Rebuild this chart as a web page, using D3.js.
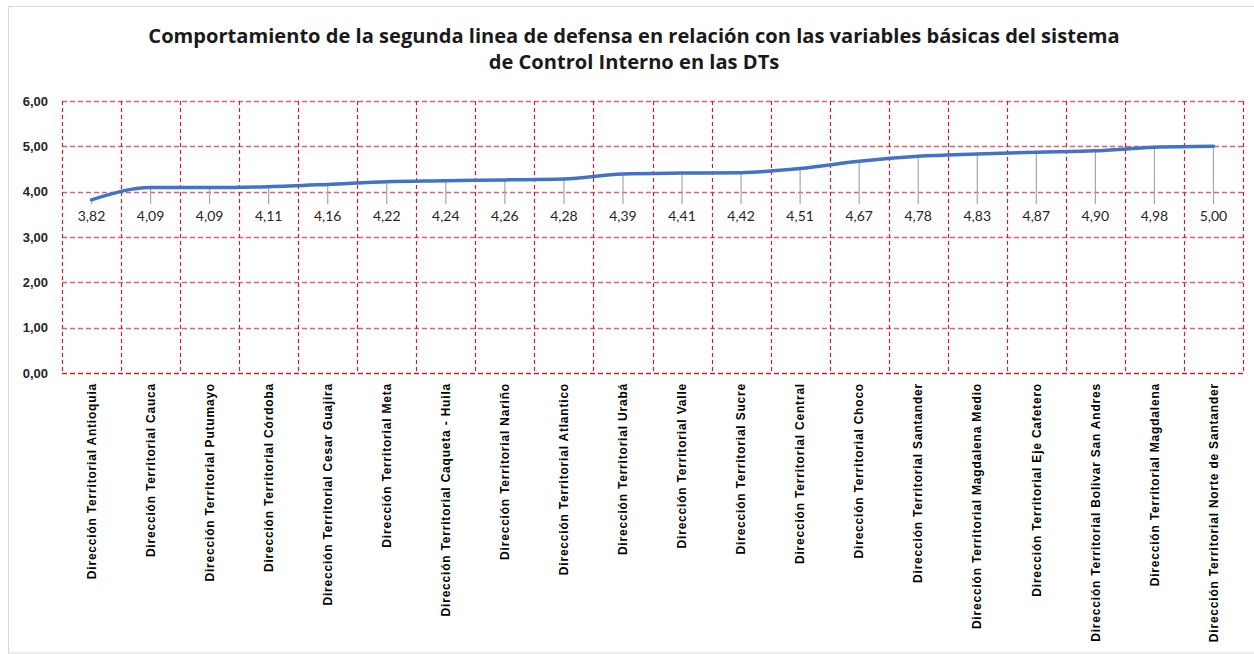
<!DOCTYPE html>
<html>
<head>
<meta charset="utf-8">
<script src="https://cdn.jsdelivr.net/npm/d3@7"></script>
<style>
  html, body { margin: 0; padding: 0; background: #fff; }
  svg { display: block; }
</style>
</head>
<body>
<svg id="chart" width="1254" height="654"></svg>
<script>
const titleLines = [
  "Comportamiento de la segunda linea de defensa en relación con las variables básicas del sistema",
  "de Control Interno en las DTs"
];
const categories = [
  "Dirección Territorial Antioquia",
  "Dirección Territorial Cauca",
  "Dirección Territorial Putumayo",
  "Dirección Territorial Córdoba",
  "Dirección Territorial Cesar Guajira",
  "Dirección Territorial Meta",
  "Dirección Territorial Caqueta - Huila",
  "Dirección Territorial Nariño",
  "Dirección Territorial Atlantico",
  "Dirección Territorial Urabá",
  "Dirección Territorial Valle",
  "Dirección Territorial Sucre",
  "Dirección Territorial Central",
  "Dirección Territorial Choco",
  "Dirección Territorial Santander",
  "Dirección Territorial Magdalena Medio",
  "Dirección Territorial Eje  Cafetero",
  "Dirección Territorial Bolivar San Andres",
  "Dirección Territorial Magdalena",
  "Dirección Territorial Norte de Santander"
];
const values = [3.82, 4.09, 4.09, 4.11, 4.16, 4.22, 4.24, 4.26, 4.28, 4.39, 4.41, 4.42, 4.51, 4.67, 4.78, 4.83, 4.87, 4.90, 4.98, 5.00];
const yTicks = [0, 1, 2, 3, 4, 5, 6];

const svg = d3.select("#chart");
const fmt = v => d3.format(".2f")(v).replace(".", ",");

// outer chart border
svg.append("rect").attr("x", 8.5).attr("y", 6.5).attr("width", 1260).attr("height", 646.5)
  .attr("fill", "#fff").attr("stroke", "#d9d9d9").attr("stroke-width", 1);

const plot = { left: 62, right: 1243, top: 101, bottom: 373 };
const x = d3.scaleBand().domain(categories).range([plot.left, plot.right]).padding(0);
const y = d3.scaleLinear().domain([0, 6]).range([plot.bottom, plot.top]);

// title
const title = svg.append("g");
const titleFont = "'Open Sans', Lato, sans-serif";
titleLines.forEach((t, i) => {
  title.append("text")
    .attr("x", 634).attr("y", 43 + i * 26)
    .attr("text-anchor", "middle")
    .attr("font-family", titleFont)
    .attr("font-weight", "bold")
    .attr("font-size", 18)
    .attr("fill", "#1a1a1a")
    .text(t);
});
{
  const n = title.select("text").node();
  const w = n.getComputedTextLength();
  const fs = 18 * 972 / w;
  title.selectAll("text").attr("font-size", fs);
}

// horizontal gridlines
svg.append("g").selectAll("line").data(yTicks).join("line")
  .attr("x1", plot.left).attr("x2", plot.right)
  .attr("y1", d => Math.round(y(d)) + 0.5).attr("y2", d => Math.round(y(d)) + 0.5)
  .attr("stroke", d => d === 0 ? "#c0202a" : "#e0606c")
  .attr("stroke-width", 1.3)
  .attr("stroke-dasharray", "5,3");

// vertical gridlines at band boundaries
const bounds = categories.map(c => x(c)).concat([plot.right]);
svg.append("g").selectAll("line").data(bounds).join("line")
  .attr("x1", d => Math.round(d) + 0.5).attr("x2", d => Math.round(d) + 0.5)
  .attr("y1", plot.top).attr("y2", plot.bottom)
  .attr("stroke", "#c8202c")
  .attr("stroke-width", 1.2)
  .attr("stroke-dasharray", "4,3");

// y axis labels
const yAxis = d3.axisLeft(y).tickValues(yTicks).tickFormat(fmt).tickSize(0).tickPadding(14);
const gy = svg.append("g").attr("transform", `translate(${plot.left},0)`).call(yAxis);
gy.select(".domain").remove();
gy.selectAll("text")
  .attr("font-family", "'Liberation Sans', Arial, sans-serif")
  .attr("font-weight", "bold")
  .attr("font-size", 13)
  .attr("fill", "#262626");

// x axis labels (rotated)
const xAxis = d3.axisBottom(x).tickSize(0).tickPadding(0);
const gx = svg.append("g").attr("transform", `translate(0,${plot.bottom})`).call(xAxis);
gx.select(".domain").remove();
gx.selectAll("text")
  .attr("transform", "rotate(-90)")
  .attr("text-anchor", "end")
  .attr("x", -10)
  .attr("y", 0)
  .attr("dy", "0.35em")
  .attr("font-family", "'Liberation Sans', Arial, sans-serif")
  .attr("font-weight", "bold")
  .attr("font-size", 12)
  .attr("letter-spacing", 0.8)
  .attr("fill", "#000");

const cx = d => x(d) + x.bandwidth() / 2;
const labelY = 216;

// leader lines
svg.append("g").selectAll("line").data(values).join("line")
  .attr("x1", (d, i) => cx(categories[i])).attr("x2", (d, i) => cx(categories[i]))
  .attr("y1", d => y(d)).attr("y2", labelY - 12)
  .attr("stroke", "#a6a6a6").attr("stroke-width", 1.2);

// line
const line = d3.line()
  .x((d, i) => cx(categories[i]))
  .y(d => y(d))
  .curve(d3.curveMonotoneX);
svg.append("path").datum(values)
  .attr("d", line)
  .attr("fill", "none")
  .attr("stroke", "#4472c4")
  .attr("stroke-width", 3.5)
  .attr("stroke-linecap", "round")
  .attr("stroke-linejoin", "round");

// data labels
svg.append("g").selectAll("text").data(values).join("text")
  .attr("x", (d, i) => cx(categories[i]))
  .attr("y", labelY)
  .attr("dy", "0.35em")
  .attr("text-anchor", "middle")
  .attr("font-family", "Lato, 'Open Sans', sans-serif")
  .attr("font-size", 14)
  .attr("fill", "#262626")
  .text(fmt);
</script>
</body>
</html>
